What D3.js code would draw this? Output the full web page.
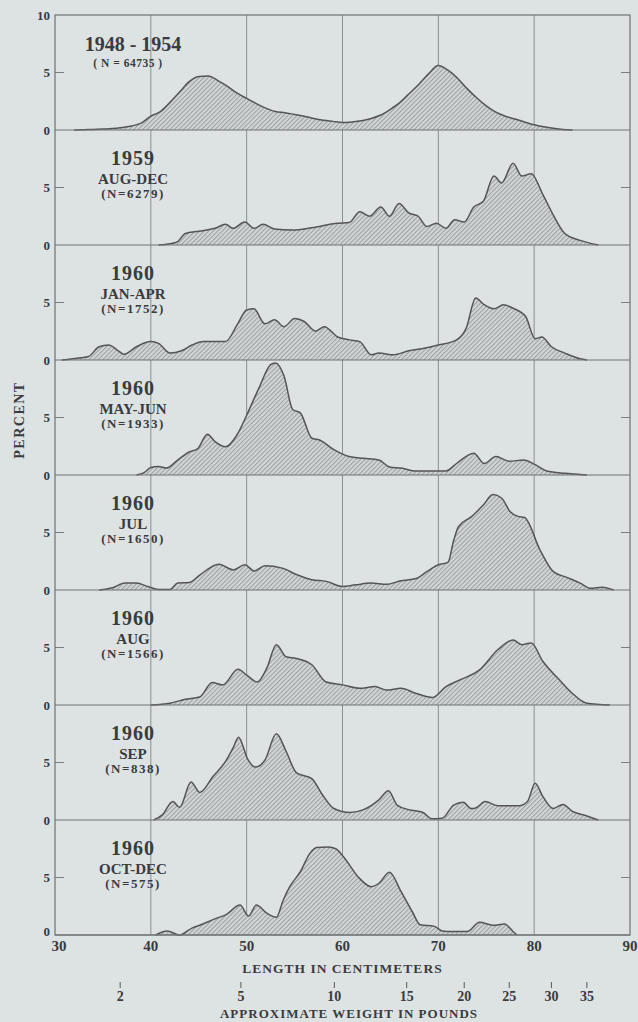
<!DOCTYPE html>
<html>
<head>
<meta charset="utf-8">
<script src="https://cdn.jsdelivr.net/npm/d3@7"></script>
<style>
  body { margin: 0; background: #dde2e3; }
  svg text { font-family: "Liberation Serif", "DejaVu Serif", serif; font-weight: bold; fill: #3a3b3d; }
</style>
</head>
<body>
<div id="chart"></div>
<script>
var width = 638, height = 1022;

//------ data ------------------------------------
var panelYears = ["1948 - 1954", "1959", "1960", "1960", "1960", "1960", "1960", "1960"];
var panelMonths = ["", "AUG-DEC", "JAN-APR", "MAY-JUN", "JUL", "AUG", "SEP", "OCT-DEC"];
var panelCounts = ["( N = 64735 )", "(N=6279)", "(N=1752)", "(N=1933)", "(N=1650)", "(N=1566)", "(N=838)", "(N=575)"];

var lengthTicks = [30, 40, 50, 60, 70, 80, 90];
var percentTicks = [0, 5];
var weightLabels = [2, 5, 10, 15, 20, 25, 30, 35];
var weightAtLength = [36.8, 49.4, 59.15, 66.7, 72.7, 77.4, 81.8, 85.5]; // cm where each weight tick sits

// [length cm, percent]
var s1948 = [[32,0],[33,0.02],[34,0.05],[35,0.08],[36,0.12],[37,0.22],[38,0.35],[39,0.6],[40,1.2],[41,1.6],[42,2.4],[43,3.3],[44,4.2],[45,4.65],[46,4.7],[47,4.3],[48,3.8],[49,3.2],[50,2.75],[51,2.3],[52,1.9],[53,1.6],[54,1.5],[55,1.35],[56,1.2],[57,1.0],[58,0.85],[59,0.75],[60,0.65],[61,0.7],[62,0.8],[63,1.0],[64,1.3],[65,1.8],[66,2.4],[67,3.2],[68,4.0],[69,4.9],[70,5.6],[71,5.2],[72,4.5],[73,3.6],[74,2.8],[75,2.1],[76,1.55],[77,1.2],[78,0.95],[79,0.7],[80,0.45],[81,0.28],[82,0.15],[83,0.05],[84,0]];
var s1959 = [[40.8,0],[42.0,0.1],[42.8,0.3],[43.6,1.0],[45.0,1.2],[46.7,1.45],[47.8,1.8],[48.6,1.45],[49.8,2.0],[50.8,1.45],[51.7,1.8],[52.9,1.4],[54.8,1.3],[56.8,1.5],[59.5,1.9],[60.7,1.95],[61.8,2.9],[62.8,2.5],[64.0,3.3],[64.9,2.5],[65.9,3.6],[66.9,2.8],[67.9,2.5],[68.8,1.6],[69.8,1.9],[70.8,1.45],[71.7,2.2],[72.7,2.0],[73.7,3.3],[74.7,3.8],[75.8,6.0],[76.6,5.4],[77.8,7.1],[78.7,6.0],[79.7,6.2],[80.9,4.4],[82.0,2.6],[83.2,1.0],[84.8,0.4],[86.7,0]];
var s1960JanApr = [[30.7,0],[32.7,0.2],[33.5,0.3],[34.6,1.15],[35.6,1.3],[36.6,0.8],[37.2,0.5],[38.5,1.15],[40,1.6],[40.8,1.45],[42,0.6],[43.2,0.8],[44.3,1.3],[45.5,1.6],[47.8,1.6],[49,3.05],[50,4.35],[50.75,4.45],[51.9,3.15],[52.9,3.5],[53.9,2.9],[55,3.6],[56,3.35],[57.2,2.5],[58.1,2.9],[59.5,2.0],[60.7,1.75],[61.8,1.6],[63,0.45],[63.8,0.6],[65.3,0.45],[66.9,0.8],[68.4,1.0],[70,1.3],[71.9,1.75],[72.9,2.75],[73.9,5.4],[74.8,4.8],[75.8,4.45],[76.8,4.8],[77.8,4.5],[79.1,3.8],[80.1,1.85],[80.8,2.0],[81.8,1.15],[83.2,0.6],[84.8,0.1],[85.5,0]];
var s1960MayJun = [[38.5,0],[39.3,0.2],[40,0.65],[40.8,0.75],[41.6,0.6],[42.8,1.3],[44,2.0],[44.9,2.3],[45.9,3.55],[46.7,2.9],[47.8,2.45],[49,3.5],[50,5.2],[51.3,7.6],[52.5,9.6],[53.0,9.75],[53.9,8.6],[54.8,5.7],[55.6,5.4],[56.8,3.2],[57.6,3.05],[59.1,2.2],[60.7,1.6],[62.2,1.45],[63.8,1.3],[64.9,0.7],[66.1,0.6],[67.7,0.35],[70.8,0.35],[71.9,1.0],[73.7,1.9],[74.8,1.0],[76,1.6],[77.4,1.2],[78.9,1.3],[80.1,0.9],[81.3,0.35],[83.2,0.15],[84.8,0.05],[85.5,0]];
var s1960Jul = [[34.6,0],[36,0.2],[37.3,0.6],[38.5,0.6],[39.7,0.3],[40.8,0.05],[42,0.05],[42.8,0.6],[44,0.65],[45.1,1.3],[47.1,2.25],[48.6,1.75],[49.8,2.2],[50.8,1.65],[51.9,2.1],[53.7,1.9],[55.2,1.35],[56.8,0.9],[58.3,0.75],[60,0.3],[61.4,0.45],[63,0.6],[64.6,0.5],[66.1,0.8],[67.7,1.0],[68.8,1.6],[70,2.2],[71.0,2.4],[71.6,4.3],[72.1,5.5],[73.5,6.4],[74.7,7.4],[75.7,8.3],[76.6,8.0],[77.5,6.8],[78.3,6.4],[79.0,6.3],[80.6,3.5],[82,1.6],[83.4,1.1],[84.8,0.6],[85.9,0.15],[87.1,0.25],[88.3,0]];
var s1960Aug = [[40,0],[42,0.15],[43.6,0.5],[45.1,0.7],[46.4,1.95],[47.5,1.75],[49.1,3.1],[50,2.6],[51.1,2.0],[52.1,3.2],[53.1,5.25],[54.1,4.2],[55.2,4.05],[56.8,3.5],[58.3,2.0],[60,1.75],[61.8,1.45],[63.4,1.6],[64.6,1.3],[66.1,1.45],[67.7,1.0],[69.4,0.65],[70.8,1.6],[72.3,2.2],[74.3,3.05],[76.2,4.8],[77.8,5.65],[78.7,5.25],[79.7,5.4],[80.9,3.8],[82.5,2.3],[84,1.0],[85.5,0.15],[87.9,0]];
var s1960Sep = [[40.3,0],[41.2,0.45],[42.3,1.6],[43,1.1],[44.2,3.3],[45.1,2.4],[46.5,3.8],[47.8,5.1],[48.6,6.3],[49.15,7.2],[50.1,5.3],[50.9,4.6],[51.9,5.2],[53.1,7.5],[54.1,6.0],[55.2,4.1],[56.8,3.6],[57.9,2.2],[59.1,1.0],[60.8,0.65],[62.2,0.9],[63.8,1.75],[64.8,2.55],[65.7,1.3],[66.9,0.9],[68.4,0.65],[69.3,0.1],[70.4,0.15],[71.6,1.3],[72.6,1.55],[73.4,1.0],[73.9,1.05],[74.9,1.6],[76.2,1.25],[78.5,1.25],[79.3,1.6],[80.1,3.2],[80.9,2.05],[82.0,1.0],[83.0,1.35],[84,0.75],[85.5,0.35],[86.7,0]];
var s1960OctDec = [[40.5,0],[41.7,0.35],[43.0,0],[44.3,0.6],[45.1,0.85],[46.7,1.4],[47.9,1.8],[49.3,2.6],[50.2,1.65],[51.0,2.6],[52.1,1.9],[53.1,1.55],[53.8,3.0],[54.5,4.2],[55.6,5.5],[56.6,7.1],[57.3,7.6],[58.5,7.65],[59.3,7.5],[60.1,6.8],[61.8,4.9],[63.0,4.2],[63.8,4.5],[64.9,5.45],[66.1,3.8],[67.3,2.0],[68.1,0.9],[69.6,0.75],[70.4,0.35],[71.4,0.3],[73.0,0.3],[74.3,1.1],[75.7,0.85],[76.9,0.95],[77.8,0.3],[78.2,0]];

var panelSeries = [s1948, s1959, s1960JanApr, s1960MayJun, s1960Jul, s1960Aug, s1960Sep, s1960OctDec];

//------ layout -----------------
var plotLeft = 55, plotRight = 630, plotTop = 15, panelH = 115;
var nPanels = panelSeries.length;
var plotBottom = plotTop + panelH * nPanels;

var svg = d3.select("#chart").append("svg")
  .attr("width", width).attr("height", height);

svg.append("rect").attr("width", width).attr("height", height).attr("fill", "#dde2e3");

// hatch fill for the areas
var pat = svg.append("defs").append("pattern")
  .attr("id", "hatch").attr("patternUnits", "userSpaceOnUse")
  .attr("width", 3.2).attr("height", 3.2)
  .attr("patternTransform", "rotate(45)");
pat.append("rect").attr("width", 3.2).attr("height", 3.2).attr("fill", "#d1d5d6");
pat.append("line").attr("x1", 0.5).attr("y1", 0).attr("x2", 0.5).attr("y2", 3.2)
  .attr("stroke", "#9a9fa1").attr("stroke-width", 1);

var x = d3.scaleLinear().domain([30, 90]).range([plotLeft, plotRight]);

// vertical grid lines
svg.selectAll(".vgrid")
  .data(lengthTicks.slice(1, -1))
  .enter().append("line")
  .attr("class", "vgrid")
  .attr("x1", function(d) { return x(d); }).attr("x2", function(d) { return x(d); })
  .attr("y1", plotTop).attr("y2", plotBottom)
  .attr("stroke", "#8b9092").attr("stroke-width", 1);

panelSeries.forEach(function(data, i) {
  var top = plotTop + panelH * i;
  var y = d3.scaleLinear().domain([0, 10]).range([top + panelH, top]);

  var area = d3.area()
    .x(function(d) { return x(d[0]); })
    .y0(y(0))
    .y1(function(d) { return y(d[1]); })
    .curve(d3.curveMonotoneX);
  var line = d3.line()
    .x(function(d) { return x(d[0]); })
    .y(function(d) { return y(d[1]); })
    .curve(d3.curveMonotoneX);

  var g = svg.append("g").attr("class", "panel");

  g.append("path").datum(data)
    .attr("d", area)
    .attr("fill", "url(#hatch)");
  g.append("path").datum(data)
    .attr("d", line)
    .attr("fill", "none")
    .attr("stroke", "#545558")
    .attr("stroke-width", 1.5)
    .attr("stroke-linejoin", "round");

  // baseline
  g.append("line")
    .attr("x1", plotLeft).attr("x2", plotRight)
    .attr("y1", y(0)).attr("y2", y(0))
    .attr("stroke", "#6e7274").attr("stroke-width", 1.2);

  // inward ticks at 5 on both sides
  g.append("line").attr("x1", plotLeft).attr("x2", plotLeft + 9)
    .attr("y1", y(5)).attr("y2", y(5)).attr("stroke", "#7a7e80");
  g.append("line").attr("x1", plotRight - 9).attr("x2", plotRight)
    .attr("y1", y(5)).attr("y2", y(5)).attr("stroke", "#7a7e80");

  var last = (i === nPanels - 1);
  g.selectAll(".ylab")
    .data(percentTicks)
    .enter().append("text")
    .attr("class", "ylab")
    .attr("x", plotLeft - 5)
    .attr("y", function(d) { return y(d) - (last && d === 0 ? 4 : 0); })
    .attr("dy", "0.35em")
    .attr("text-anchor", "end")
    .style("font-size", "13px")
    .text(function(d) { return d; });

  // panel titles
  var cx = 133;
  if (i === 0) {
    g.append("text").attr("x", cx).attr("y", top + 36).attr("text-anchor", "middle")
      .style("font-size", "20px").text(panelYears[i]);
    g.append("text").attr("x", cx - 5).attr("y", top + 52).attr("text-anchor", "middle")
      .style("font-size", "11.5px").style("letter-spacing", "0.5px").text(panelCounts[i]);
  } else {
    g.append("text").attr("x", cx).attr("y", top + 35).attr("text-anchor", "middle")
      .style("font-size", "20px").style("letter-spacing", "1px").text(panelYears[i]);
    g.append("text").attr("x", cx).attr("y", top + 54).attr("text-anchor", "middle")
      .style("font-size", "15px").text(panelMonths[i]);
    g.append("text").attr("x", cx).attr("y", top + 68).attr("text-anchor", "middle")
      .style("font-size", "13px").style("letter-spacing", "1.5px").text(panelCounts[i]);
  }
});

// "10" at the very top
svg.append("text").attr("x", plotLeft - 5).attr("y", plotTop).attr("dy", "0.35em")
  .attr("text-anchor", "end").style("font-size", "13px").text("10");

// frame
svg.append("rect")
  .attr("x", plotLeft).attr("y", plotTop)
  .attr("width", plotRight - plotLeft).attr("height", plotBottom - plotTop)
  .attr("fill", "none").attr("stroke", "#6e7274").attr("stroke-width", 1.2);

// length axis labels
svg.selectAll(".xlab")
  .data(lengthTicks)
  .enter().append("text")
  .attr("class", "xlab")
  .attr("x", function(d) { return x(d) + (d === 30 ? 4 : 0); })
  .attr("y", plotBottom + 16)
  .attr("text-anchor", "middle")
  .style("font-size", "15px")
  .text(function(d) { return d; });

svg.append("text").attr("x", (plotLeft + plotRight) / 2).attr("y", 973)
  .attr("text-anchor", "middle").style("font-size", "13.5px").style("letter-spacing", "1px")
  .text("LENGTH IN CENTIMETERS");

// approximate weight axis
svg.selectAll(".wtick")
  .data(weightAtLength)
  .enter().append("line")
  .attr("class", "wtick")
  .attr("x1", function(d) { return x(d); }).attr("x2", function(d) { return x(d); })
  .attr("y1", 982).attr("y2", 988)
  .attr("stroke", "#55585a").attr("stroke-width", 1);

svg.selectAll(".wlab")
  .data(weightLabels)
  .enter().append("text")
  .attr("class", "wlab")
  .attr("x", function(d, i) { return x(weightAtLength[i]); })
  .attr("y", 1001)
  .attr("text-anchor", "middle")
  .style("font-size", "14px")
  .text(function(d) { return d; });

svg.append("text").attr("x", 349).attr("y", 1018)
  .attr("text-anchor", "middle").style("font-size", "13px").style("letter-spacing", "1px")
  .text("APPROXIMATE WEIGHT IN POUNDS");

svg.append("text")
  .attr("transform", "translate(24,420) rotate(-90)")
  .attr("text-anchor", "middle").style("font-size", "14px").style("letter-spacing", "1.5px")
  .text("PERCENT");
</script>
</body>
</html>
